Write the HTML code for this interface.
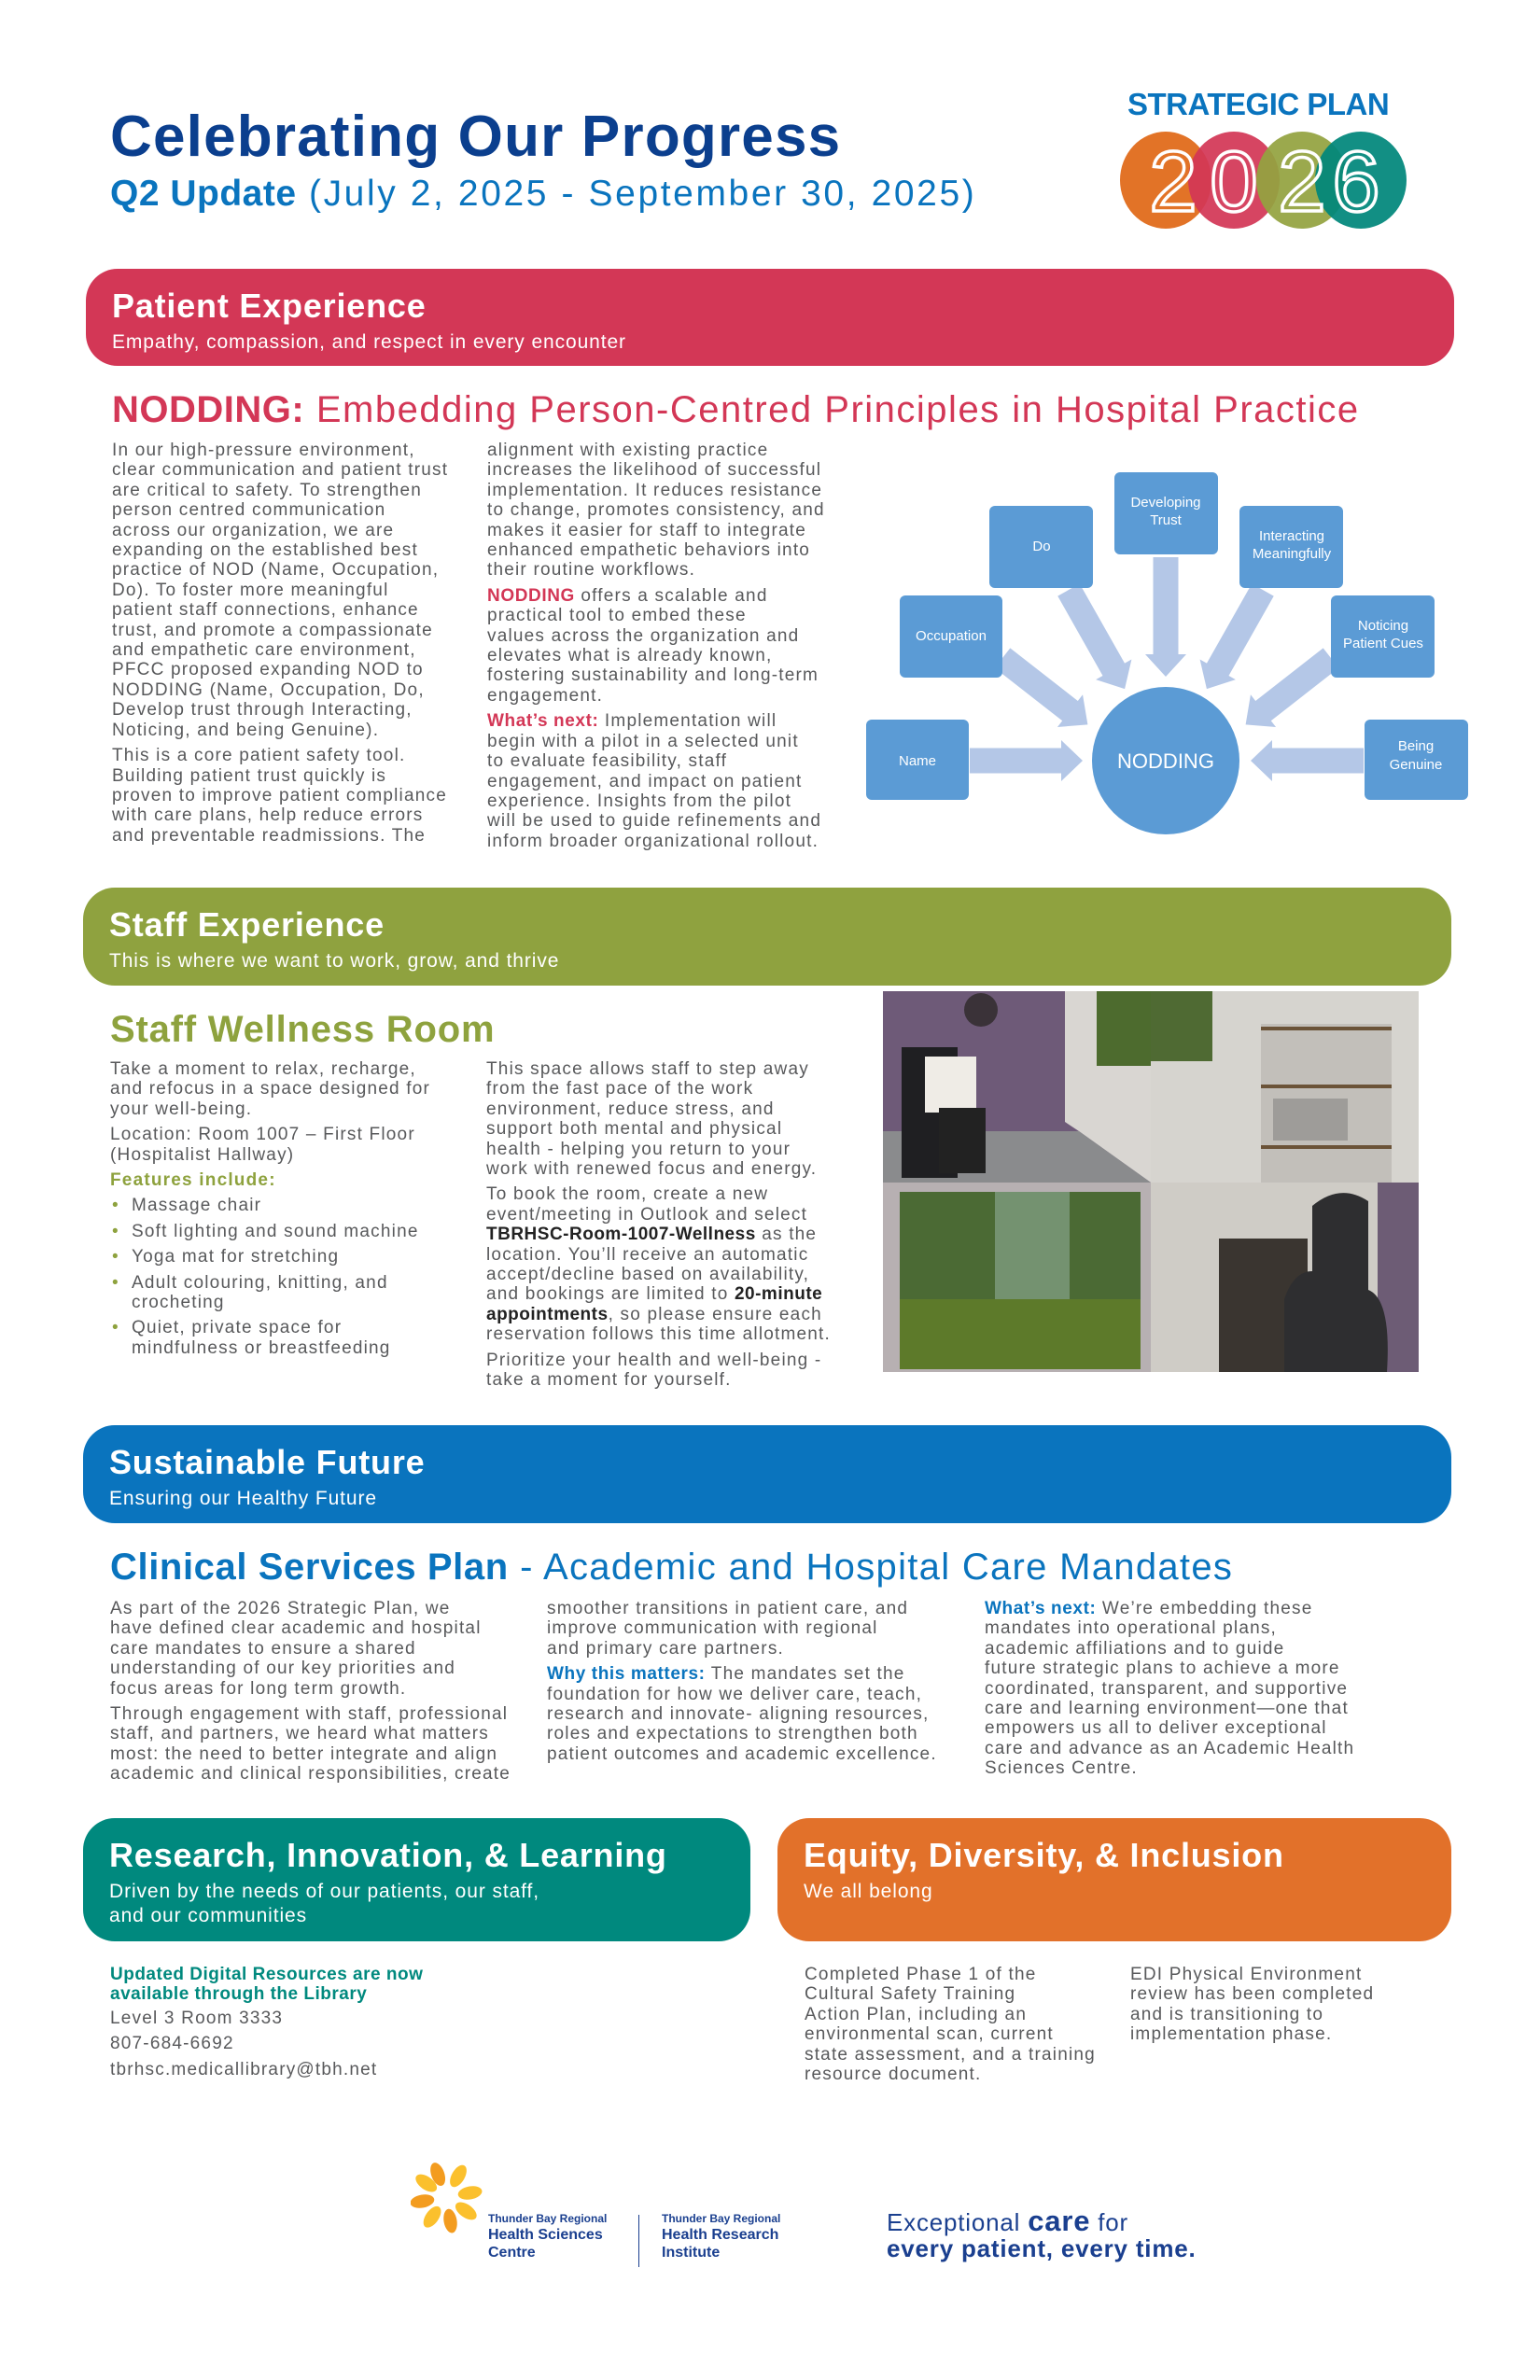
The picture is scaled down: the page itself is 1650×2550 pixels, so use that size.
<!DOCTYPE html>
<html><head><meta charset="utf-8">
<style>
*{margin:0;padding:0;box-sizing:border-box}
body{width:1650px;height:2550px;background:#fff;position:relative;overflow:hidden;font-family:"Liberation Sans",sans-serif;color:#58595b}
.a{position:absolute}
.bar{position:absolute;border-radius:34px;color:#fff;padding-left:28px}
.bar h2{font-size:36px;font-weight:bold;letter-spacing:0.8px;line-height:40px}
.bar p{font-size:21px;line-height:26px;margin-top:6px;letter-spacing:0.9px}
.t{position:absolute;font-size:19px;line-height:21.4px;color:#58595b;white-space:nowrap;letter-spacing:1.2px}
.t p{margin-bottom:6px}
.red{color:#d33756;font-weight:bold;letter-spacing:0.6px}
.blu{color:#0a74be;font-weight:bold;letter-spacing:0.6px}
.grn{color:#8ea23e;font-weight:bold}
.dk{color:#222;font-weight:bold;letter-spacing:0.5px}
ul{list-style:none}
li{position:relative;padding-left:23px;margin-bottom:6px}
li:before{content:"•";position:absolute;left:2px;color:#8ea23e}
</style></head><body>

<div class="a" style="left:118px;top:112px;font-size:62px;font-weight:bold;color:#0b3f8e;letter-spacing:1.2px;line-height:70px;white-space:nowrap">Celebrating Our Progress</div>
<div class="a" style="left:118px;top:186px;font-size:39px;color:#0a74be;line-height:44px;letter-spacing:2.6px;white-space:nowrap"><b style="letter-spacing:0.5px">Q2 Update</b> (July 2, 2025 - September 30, 2025)</div>

<div class="a" style="left:1208px;top:94px;font-size:33px;font-weight:bold;color:#0a74be;line-height:36px;letter-spacing:-0.5px;white-space:nowrap">STRATEGIC PLAN</div>
<svg class="a" style="left:1195px;top:136px" width="320" height="115">
<ellipse cx="54" cy="57" rx="49" ry="52" fill="#e27327"/>
<ellipse cx="127" cy="57" rx="49" ry="52" fill="#d33756" opacity="0.93"/>
<ellipse cx="200" cy="57" rx="49" ry="52" fill="#93a33f" opacity="0.93"/>
<ellipse cx="263" cy="57" rx="49" ry="52" fill="#00877b" opacity="0.93"/>
<g font-family="Liberation Sans" font-size="92" fill="none" stroke="#fff" stroke-width="3.5" text-anchor="middle">
<text x="62" y="90">2</text><text x="127" y="90">0</text><text x="200" y="90">2</text><text x="258" y="90">6</text>
</g>
</svg>

<div class="bar" style="left:92px;top:288px;width:1466px;height:104px;background:#d33756;padding-top:20px"><h2>Patient Experience</h2><p>Empathy, compassion, and respect in every encounter</p></div>

<div class="a" style="left:120px;top:414px;font-size:40px;line-height:50px;color:#d33756;white-space:nowrap;letter-spacing:1.5px"><b style="letter-spacing:0.5px">NODDING:</b> Embedding Person-Centred Principles in Hospital Practice</div>

<div class="t" style="left:120px;top:472px">
<p>In our high-pressure environment,<br>clear communication and patient trust<br>are critical to safety. To strengthen<br>person centred communication<br>across our organization, we are<br>expanding on the established best<br>practice of NOD (Name, Occupation,<br>Do). To foster more meaningful<br>patient staff connections, enhance<br>trust, and promote a compassionate<br>and empathetic care environment,<br>PFCC proposed expanding NOD to<br>NODDING (Name, Occupation, Do,<br>Develop trust through Interacting,<br>Noticing, and being Genuine).</p>
<p>This is a core patient safety tool.<br>Building patient trust quickly is<br>proven to improve patient compliance<br>with care plans, help reduce errors<br>and preventable readmissions. The</p>
</div>
<div class="t" style="left:522px;top:472px">
<p>alignment with existing practice<br>increases the likelihood of successful<br>implementation. It reduces resistance<br>to change, promotes consistency, and<br>makes it easier for staff to integrate<br>enhanced empathetic behaviors into<br>their routine workflows.</p>
<p><span class="red">NODDING</span> offers a scalable and<br>practical tool to embed these<br>values across the organization and<br>elevates what is already known,<br>fostering sustainability and long-term<br>engagement.</p>
<p><span class="red">What’s next:</span> Implementation will<br>begin with a pilot in a selected unit<br>to evaluate feasibility, staff<br>engagement, and impact on patient<br>experience. Insights from the pilot<br>will be used to guide refinements and<br>inform broader organizational rollout.</p>
</div>

<svg class="a" style="left:0;top:0" width="1650" height="950" font-family="Liberation Sans">
<g fill="#b4c7e7">
<g transform="translate(1039,815)"><polygon points="0,-13.5 98,-13.5 98,-22 121,0 98,22 98,13.5 0,13.5"/></g>
<g transform="translate(1461,815) rotate(180)"><polygon points="0,-13.5 98,-13.5 98,-22 121,0 98,22 98,13.5 0,13.5"/></g>
<g transform="translate(1249,597) rotate(90)"><polygon points="0,-13.5 104,-13.5 104,-22 128,0 104,22 104,13.5 0,13.5"/></g>
<g transform="translate(1145,632) rotate(60.5)"><polygon points="0,-13.5 98,-13.5 98,-22 122,0 98,22 98,13.5 0,13.5"/></g>
<g transform="translate(1353,632) rotate(119.5)"><polygon points="0,-13.5 98,-13.5 98,-22 122,0 98,22 98,13.5 0,13.5"/></g>
<g transform="translate(1074,705) rotate(38)"><polygon points="0,-13.5 92,-13.5 92,-22 116,0 92,22 92,13.5 0,13.5"/></g>
<g transform="translate(1426,705) rotate(142)"><polygon points="0,-13.5 92,-13.5 92,-22 116,0 92,22 92,13.5 0,13.5"/></g>
</g>
<g fill="#5b9bd5">
<rect x="928" y="771" width="110" height="86" rx="6"/>
<rect x="964" y="638" width="110" height="88" rx="6"/>
<rect x="1060" y="542" width="111" height="88" rx="6"/>
<rect x="1194" y="506" width="111" height="88" rx="6"/>
<rect x="1328" y="542" width="111" height="88" rx="6"/>
<rect x="1426" y="638" width="111" height="88" rx="6"/>
<rect x="1462" y="771" width="111" height="86" rx="6"/>
<circle cx="1249" cy="815" r="79"/>
</g>
<g fill="#fff" font-size="15" text-anchor="middle">
<text x="983" y="820">Name</text>
<text x="1019" y="686">Occupation</text>
<text x="1116" y="590">Do</text>
<text x="1249" y="543">Developing</text><text x="1249" y="562">Trust</text>
<text x="1384" y="579">Interacting</text><text x="1384" y="598">Meaningfully</text>
<text x="1482" y="675">Noticing</text><text x="1482" y="694">Patient Cues</text>
<text x="1517" y="804">Being</text><text x="1517" y="824">Genuine</text>
<text x="1249" y="823" font-size="22">NODDING</text>
</g>
</svg>

<div class="bar" style="left:89px;top:951px;width:1466px;height:105px;background:#8fa23f;padding-top:20px"><h2>Staff Experience</h2><p>This is where we want to work, grow, and thrive</p></div>

<div class="a grn" style="left:118px;top:1078px;font-size:40px;line-height:50px;letter-spacing:0.8px;white-space:nowrap">Staff Wellness Room</div>
<div class="t" style="left:118px;top:1135px">
<p>Take a moment to relax, recharge,<br>and refocus in a space designed for<br>your well-being.</p>
<p>Location: Room 1007 – First Floor<br>(Hospitalist Hallway)</p>
<p class="grn" style="margin-bottom:6px">Features include:</p>
<ul><li>Massage chair</li><li>Soft lighting and sound machine</li><li>Yoga mat for stretching</li><li>Adult colouring, knitting, and<br>crocheting</li><li>Quiet, private space for<br>mindfulness or breastfeeding</li></ul>
</div>
<div class="t" style="left:521px;top:1135px">
<p>This space allows staff to step away<br>from the fast pace of the work<br>environment, reduce stress, and<br>support both mental and physical<br>health - helping you return to your<br>work with renewed focus and energy.</p>
<p>To book the room, create a new<br>event/meeting in Outlook and select<br><span class="dk">TBRHSC-Room-1007-Wellness</span> as the<br>location. You’ll receive an automatic<br>accept/decline based on availability,<br>and bookings are limited to <span class="dk">20-minute<br>appointments</span>, so please ensure each<br>reservation follows this time allotment.</p>
<p>Prioritize your health and well-being -<br>take a moment for yourself.</p>
</div>

<svg class="a" style="left:946px;top:1062px" width="574" height="408">
<rect x="0" y="0" width="287" height="205" fill="#6e5a78"/>
<polygon points="195,0 287,0 287,205 210,150 195,140" fill="#d9d6d2"/>
<polygon points="0,150 210,150 287,205 0,205" fill="#8a8b8d"/>
<rect x="229" y="0" width="58" height="80" fill="#4d6b2e"/>
<rect x="20" y="60" width="60" height="140" fill="#1f1f22"/>
<rect x="45" y="70" width="55" height="60" fill="#efece6"/>
<rect x="60" y="125" width="50" height="70" fill="#222"/>
<circle cx="105" cy="20" r="18" fill="#3a3238"/>
<rect x="287" y="0" width="287" height="205" fill="#d6d4cf"/>
<rect x="287" y="0" width="66" height="75" fill="#4f6a33"/>
<rect x="405" y="35" width="140" height="170" fill="#c2bfba"/>
<rect x="405" y="38" width="140" height="4" fill="#6b5338"/><rect x="405" y="100" width="140" height="4" fill="#6b5338"/><rect x="405" y="165" width="140" height="4" fill="#6b5338"/>
<rect x="418" y="115" width="80" height="45" fill="#9e9c99"/>
<rect x="0" y="205" width="287" height="203" fill="#b7b0b2"/>
<rect x="18" y="215" width="258" height="190" fill="#4b6a34"/>
<rect x="120" y="215" width="80" height="120" fill="#8fae9a" opacity="0.6"/>
<rect x="18" y="330" width="258" height="75" fill="#5d7a2a"/>
<rect x="287" y="205" width="287" height="203" fill="#cfccc6"/>
<rect x="530" y="205" width="44" height="203" fill="#6d5c75"/>
<rect x="360" y="265" width="95" height="143" fill="#3a3530"/>
<path d="M430,408 L430,330 Q440,300 460,300 L460,230 Q490,205 520,225 L520,320 Q545,330 540,408 Z" fill="#2e2e30"/>
</svg>

<div class="bar" style="left:89px;top:1527px;width:1466px;height:105px;background:#0a74be;padding-top:20px"><h2>Sustainable Future</h2><p>Ensuring our Healthy Future</p></div>

<div class="a" style="left:118px;top:1654px;font-size:40px;line-height:50px;color:#0a74be;white-space:nowrap;letter-spacing:1.3px"><b style="letter-spacing:0.6px">Clinical Services Plan</b> - Academic and Hospital Care Mandates</div>
<div class="t" style="left:118px;top:1713px">
<p>As part of the 2026 Strategic Plan, we<br>have defined clear academic and hospital<br>care mandates to ensure a shared<br>understanding of our key priorities and<br>focus areas for long term growth.</p>
<p>Through engagement with staff, professional<br>staff, and partners, we heard what matters<br>most:  the need to better integrate and align<br>academic and clinical responsibilities, create</p>
</div>
<div class="t" style="left:586px;top:1713px">
<p>smoother transitions in patient care, and<br>improve communication with regional<br>and primary care partners.</p>
<p><span class="blu">Why this matters:</span> The mandates set the<br>foundation for how we deliver care, teach,<br>research and innovate- aligning resources,<br>roles and expectations to strengthen both<br>patient outcomes and academic excellence.</p>
</div>
<div class="t" style="left:1055px;top:1713px">
<p><span class="blu">What’s next:</span> We’re embedding these<br>mandates into operational plans,<br>academic affiliations and to guide<br>future strategic plans to achieve a more<br>coordinated, transparent, and supportive<br>care and learning environment—one that<br>empowers us all to deliver exceptional<br>care and advance as an Academic Health<br>Sciences Centre.</p>
</div>

<div class="bar" style="left:89px;top:1948px;width:715px;height:132px;background:#00897e;padding-top:20px"><h2>Research, Innovation, &amp; Learning</h2><p>Driven by the needs of our patients, our staff,<br>and our communities</p></div>
<div class="bar" style="left:833px;top:1948px;width:722px;height:132px;background:#e2712a;padding-top:20px"><h2>Equity, Diversity, &amp; Inclusion</h2><p>We all belong</p></div>

<div class="t" style="left:118px;top:2105px">
<p style="color:#00897e;font-weight:bold;margin-bottom:4px;letter-spacing:0.5px">Updated Digital Resources are now<br>available through the Library</p>
<p>Level 3 Room 3333</p>
<p>807-684-6692</p>
<p>tbrhsc.medicallibrary@tbh.net</p>
</div>
<div class="t" style="left:862px;top:2105px">
<p>Completed Phase 1 of the<br>Cultural Safety Training<br>Action Plan, including an<br>environmental scan, current<br>state assessment, and a training<br>resource document.</p>
</div>
<div class="t" style="left:1211px;top:2105px">
<p>EDI Physical Environment<br>review has been completed<br>and is transitioning to<br>implementation phase.</p>
</div>

<svg class="a" style="left:440px;top:2316px" width="80" height="80">
<g transform="translate(38,38)">
<ellipse cx="0" cy="-26" rx="7" ry="13" fill="#f39c1f" transform="rotate(-20)"/>
<ellipse cx="0" cy="-26" rx="7" ry="13" fill="#fbc02d" transform="rotate(30)"/>
<ellipse cx="0" cy="-26" rx="7" ry="13" fill="#fbc02d" transform="rotate(80)"/>
<ellipse cx="0" cy="-26" rx="7" ry="13" fill="#fbc02d" transform="rotate(125)"/>
<ellipse cx="0" cy="-26" rx="7" ry="13" fill="#f39c1f" transform="rotate(170)"/>
<ellipse cx="0" cy="-26" rx="7" ry="13" fill="#fbc02d" transform="rotate(215)"/>
<ellipse cx="0" cy="-26" rx="7" ry="13" fill="#f39c1f" transform="rotate(260)"/>
<ellipse cx="0" cy="-26" rx="7" ry="13" fill="#fbc02d" transform="rotate(305)"/>
</g></svg>
<div class="a" style="left:523px;top:2370px;color:#1a3f8f;font-size:12px;line-height:14px;font-weight:bold;white-space:nowrap">Thunder Bay Regional</div>
<div class="a" style="left:523px;top:2385px;color:#1a3f8f;font-size:16px;line-height:19px;font-weight:bold;white-space:nowrap">Health Sciences<br>Centre</div>
<div class="a" style="left:684px;top:2373px;width:1px;height:56px;background:#1a3f8f"></div>
<div class="a" style="left:709px;top:2370px;color:#1a3f8f;font-size:12px;line-height:14px;font-weight:bold;white-space:nowrap">Thunder Bay Regional</div>
<div class="a" style="left:709px;top:2385px;color:#1a3f8f;font-size:16px;line-height:19px;font-weight:bold;white-space:nowrap">Health Research<br>Institute</div>
<div class="a" style="left:950px;top:2366px;color:#1a3f8f;font-size:26px;line-height:28px;white-space:nowrap;letter-spacing:0.8px">Exceptional <b style="font-size:31px">care</b> for<br><b>every patient, every time.</b></div>

</body></html>
